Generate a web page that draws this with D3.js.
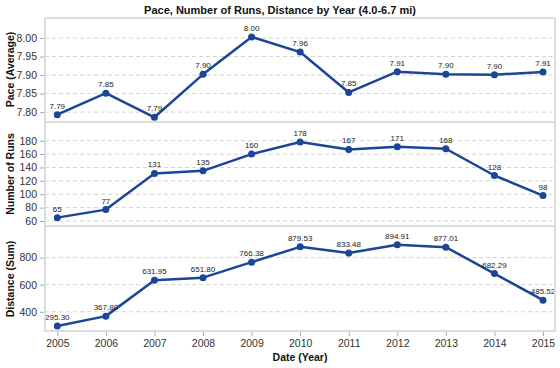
<!DOCTYPE html>
<html><head><meta charset="utf-8">
<script src="https://cdn.jsdelivr.net/npm/d3@7"></script>
<style>body{margin:0;background:#fff}svg{display:block;font-family:"Liberation Sans",Arial,sans-serif}</style>
</head><body><svg id="c" width="560" height="368"></svg>
<script>
const years = [2005,2006,2007,2008,2009,2010,2011,2012,2013,2014,2015];
const pace = [7.793,7.851,7.786,7.902,8.003,7.962,7.853,7.909,7.902,7.901,7.908];
const paceLabels = ["7.79","7.85","7.79","7.90","8.00","7.96","7.85","7.91","7.90","7.90","7.91"];
const runs = [65,77,131,135,160,178,167,171,168,128,98];
const runLabels = ["65","77","131","135","160","178","167","171","168","128","98"];
const distance = [295.30,367.80,631.95,651.80,766.38,879.53,833.48,894.91,877.01,682.29,485.52];
const distLabels = ["295.30","367.80","631.95","651.80","766.38","879.53","833.48","894.91","877.01","682.29","485.52"];
const paceTicks = [7.80,7.85,7.90,7.95,8.00];
const runTicks = [60,80,100,120,140,160,180];
const distTicks = [400,600,800];

const svg = d3.select("#c");
const L = 45, R = 555;
const x = d3.scaleLinear().domain([2005,2015]).range([57.3,543]);
const color = "#1d4597";

svg.append("text").attr("x",280).attr("y",14).attr("text-anchor","middle")
  .attr("font-weight","bold").attr("font-size",11).attr("fill","#111")
  .text("Pace, Number of Runs, Distance by Year (4.0-6.7 mi)");

const panels = [
  {vals:pace, labels:paceLabels, ticks:paceTicks, dom:[7.776,8.054], top:18, bot:121, title:"Pace (Average)", fmt:d3.format(".2f")},
  {vals:runs, labels:runLabels, ticks:runTicks, dom:[52.5,208], top:122, bot:226, title:"Number of Runs", fmt:d3.format("d")},
  {vals:distance, labels:distLabels, ticks:distTicks, dom:[258,1026], top:227, bot:331, title:"Distance (Sum)", fmt:d3.format("d")}
];

panels.forEach(p=>{
  const y = d3.scaleLinear().domain(p.dom).range([p.bot,p.top]);
  const g = svg.append("g");
  // grid
  g.selectAll("line.grid").data(p.ticks).enter().append("line")
    .attr("x1",L).attr("x2",R).attr("y1",d=>y(d)).attr("y2",d=>y(d))
    .attr("stroke","#d4d4d4").attr("stroke-dasharray","4,3").attr("stroke-width",1);
  // axis
  const ax = g.append("g").attr("transform",`translate(${L},0)`)
    .call(d3.axisLeft(y).tickValues(p.ticks).tickFormat(p.fmt).tickSize(5).tickPadding(3));
  ax.select(".domain").remove();
  ax.selectAll(".tick line").attr("stroke","#aaa");
  ax.selectAll(".tick text").attr("fill","#333").attr("font-size",10.5).attr("font-family","Liberation Sans, Arial, sans-serif");
  // title
  svg.append("text").attr("transform",`translate(14,${(p.top+p.bot)/2}) rotate(-90)`)
    .attr("text-anchor","middle").attr("font-weight","bold").attr("font-size",10.5).attr("fill","#111")
    .text(p.title);
  // line
  const line = d3.line().x((d,i)=>x(years[i])).y(d=>y(d));
  g.append("path").datum(p.vals).attr("d",line).attr("fill","none")
    .attr("stroke",color).attr("stroke-width",2.5).attr("stroke-linejoin","round");
  g.selectAll("circle").data(p.vals).enter().append("circle")
    .attr("cx",(d,i)=>x(years[i])).attr("cy",d=>y(d)).attr("r",3.5).attr("fill",color);
  g.selectAll("text.lbl").data(p.vals).enter().append("text").attr("class","lbl")
    .attr("x",(d,i)=>x(years[i])).attr("y",d=>y(d)-6).attr("text-anchor","middle")
    .attr("font-size",8).attr("fill","#222").text((d,i)=>p.labels[i]);
});

// frame
const fr = svg.append("g").attr("stroke","#dcdcdc").attr("stroke-width",2).attr("fill","none");
fr.append("line").attr("x1",L).attr("x2",R).attr("y1",18).attr("y2",18);
fr.append("line").attr("x1",L).attr("x2",R).attr("y1",122).attr("y2",122);
fr.append("line").attr("x1",L).attr("x2",R).attr("y1",226).attr("y2",226);
fr.append("line").attr("x1",L).attr("x2",R).attr("y1",331).attr("y2",331);
fr.append("line").attr("x1",L).attr("x2",L).attr("y1",18).attr("y2",331);
fr.append("line").attr("x1",R).attr("x2",R).attr("y1",18).attr("y2",331);

// x axis
const xa = svg.append("g").attr("transform","translate(0,332)")
  .call(d3.axisBottom(x).tickValues(years).tickFormat(d3.format("d")).tickSize(4).tickPadding(4));
xa.select(".domain").remove();
xa.selectAll(".tick line").attr("stroke","#aaa");
xa.selectAll(".tick text").attr("fill","#333").attr("font-size",10.5).attr("font-family","Liberation Sans, Arial, sans-serif");
svg.append("text").attr("x",300).attr("y",361).attr("text-anchor","middle")
  .attr("font-weight","bold").attr("font-size",10.5).attr("fill","#111").text("Date (Year)");
</script></body></html>
